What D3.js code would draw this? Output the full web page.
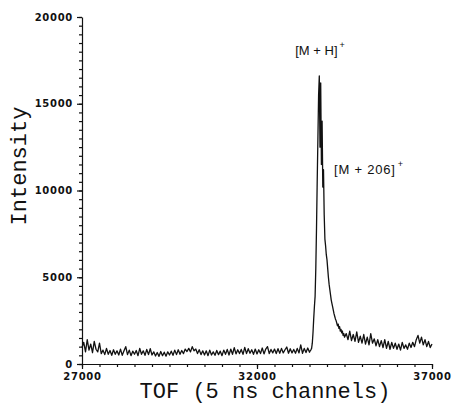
<!DOCTYPE html>
<html>
<head>
<meta charset="utf-8">
<script src="https://cdn.jsdelivr.net/npm/d3@7"></script>
<style>
  body { margin: 0; background: #fff; }
  .tick text { font-family: "DejaVu Sans", sans-serif; font-weight: bold; font-size: 10px; letter-spacing: 0.7px; }
  .title { font-family: "Courier New", "Liberation Mono", monospace; font-size: 22px; fill: #111; }
  .note { font-family: "Liberation Sans", Arial, sans-serif; font-size: 13px; fill: #111; }
</style>
</head>
<body>
<svg id="chart"></svg>
<script>
// channel positions and intensities
const baseX = d3.range(27000, 33501, 50);
const baseY = [
  950, 1250, 700, 1400, 800, 1150, 650, 1300, 850, 700, 1200,
  600, 800, 540, 900, 560, 780, 500, 820, 560, 760,
  520, 860, 500, 760, 1000, 540, 800, 480, 740, 560,
  780, 480, 900, 560, 760, 500, 840, 540, 880, 520,
  700, 460, 660, 440, 720, 480, 680, 450, 700, 520,
  740, 500, 800, 540, 820, 560, 780, 600, 860, 720,
  900, 700, 1000, 760, 860, 600, 820, 540, 760, 520,
  760, 480, 800, 520, 700, 500, 780, 540, 740, 480,
  800, 560, 840, 520, 860, 560, 940, 580, 820, 600,
  840, 560, 960, 600, 880, 620, 820, 560, 860, 580,
  820, 600, 920, 580, 860, 1000, 600, 840, 640, 860,
  600, 880, 620, 900, 640, 820, 980, 620, 880, 640,
  840, 620, 900, 640, 1100, 620, 900, 660, 920, 680
];
const peakX = d3.range(33520, 34501, 20);
const peakY = [
  760, 820, 900, 1200, 1800, 2600, 3300, 3900, 5500, 7800,
  10500, 13000, 15500, 16600, 12500, 16200, 11500, 14000, 10200, 11200,
  8600, 7200, 6800, 6300, 6000, 5500, 5000, 4600, 4300, 4000,
  3700, 3500, 3300, 3100, 2900, 2750, 2600, 2500, 2350, 2200,
  2300, 2050, 2150, 1900, 2000, 1800, 1900, 1650, 1750, 1550
];
const tailX = d3.range(34550, 37001, 50);
const tailY = [
  1750, 1400, 1900, 1350, 1700, 1300, 1850, 1250, 1600, 1200,
  1700, 1150, 1550, 1100, 1750, 1200, 1450, 1050, 1400, 1000,
  1350, 950, 1400, 900, 1300, 850, 1250, 900, 1200, 850,
  1150, 800, 1250, 900, 1100, 850, 1200, 950, 1250, 1000,
  1400, 1650, 1200, 1550, 1100, 1400, 1000, 1300, 950, 1150
];
const xTicks = [27000, 32000, 37000];
const yTicks = [0, 5000, 10000, 15000, 20000];
const notes = [
  { x: 33800, y: 17800, label: "[M + H]", sup: "+" },
  { x: 34200, y: 10950, label: "[M + 206]", sup: "+" }
];

const width = 453, height = 406;
const margin = { top: 17, right: 21, bottom: 42, left: 82 };
const innerWidth = width - margin.left - margin.right;
const innerHeight = height - margin.top - margin.bottom;

const data = []
  .concat(baseX.map((x, i) => ({ x, y: baseY[i] })))
  .concat(peakX.map((x, i) => ({ x, y: peakY[i] })))
  .concat(tailX.map((x, i) => ({ x, y: tailY[i] })));

const svg = d3.select("#chart").attr("width", width).attr("height", height);
const g = svg.append("g").attr("transform", `translate(${margin.left}, ${margin.top})`);

const xScale = d3.scaleLinear().domain([27000, 37000]).range([0, innerWidth]);
const yScale = d3.scaleLinear().domain([0, 20000]).range([innerHeight, 0]);

// minor ticks first, then labelled axes on top
g.append("g")
  .attr("transform", `translate(0, ${innerHeight})`)
  .call(d3.axisBottom(xScale).tickValues(d3.range(27000, 37001, 500)).tickSize(3).tickFormat(""))
  .call((a) => a.select(".domain").remove());
g.append("g")
  .call(d3.axisLeft(yScale).tickValues(d3.range(0, 20001, 500)).tickSize(3).tickFormat(""))
  .call((a) => a.select(".domain").remove());

const xAxisG = g.append("g")
  .attr("transform", `translate(0, ${innerHeight})`)
  .call(d3.axisBottom(xScale).tickValues(xTicks).tickSize(5).tickPadding(4).tickSizeOuter(0).tickFormat(d3.format("d")));
const yAxisG = g.append("g")
  .call(d3.axisLeft(yScale).tickValues(yTicks).tickSize(5).tickPadding(4).tickSizeOuter(0).tickFormat(d3.format("d")));

g.selectAll(".domain, .tick line").attr("stroke", "#111").attr("stroke-width", 1.2);
g.selectAll(".tick text").attr("fill", "#111");

xAxisG.append("text")
  .attr("class", "title")
  .attr("x", innerWidth / 2 + 8)
  .attr("y", 34)
  .attr("text-anchor", "middle")
  .text("TOF (5 ns channels)");

yAxisG.append("text")
  .attr("class", "title")
  .attr("transform", "rotate(-90)")
  .attr("x", -149)
  .attr("y", -56)
  .attr("text-anchor", "middle")
  .text("Intensity");

// spectrum trace
const lineGenerator = d3.line().x((d) => xScale(d.x)).y((d) => yScale(d.y));
g.append("path")
  .attr("d", lineGenerator(data))
  .attr("fill", "none")
  .attr("stroke", "#111")
  .attr("stroke-width", 1.3)
  .attr("stroke-linejoin", "round");

// peak labels
notes.forEach((n, i) => {
  const t = g.append("text")
    .attr("class", "note")
    .attr("x", xScale(n.x))
    .attr("y", yScale(n.y))
    .attr("fill", "#111")
    .attr("text-anchor", i === 0 ? "middle" : "start")
    .style("letter-spacing", i === 0 ? "0px" : "0.8px");
  t.append("tspan").attr("fill", "#111").text(n.label);
  t.append("tspan").attr("fill", "#111").attr("dy", -7).attr("dx", 2).style("font-size", "9px").text(n.sup);
});
</script>
</body>
</html>
